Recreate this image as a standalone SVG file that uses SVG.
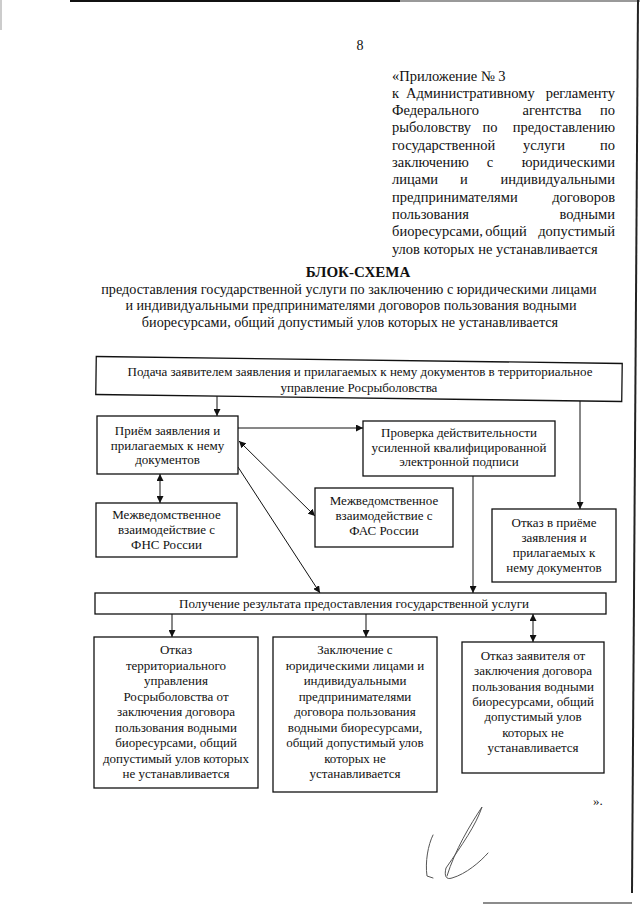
<svg xmlns="http://www.w3.org/2000/svg" width="640" height="905" viewBox="0 0 640 905">
<defs>
<style>
text{font-family:"Liberation Serif","Times New Roman",serif;fill:#111}
.b{font-size:13px;text-anchor:middle}
.h{font-size:14.5px}
.he{font-size:14.5px;text-anchor:end}
.hm{font-size:14.5px;text-anchor:middle}
.t{font-size:14.2px;text-anchor:middle}
.box{fill:#fff;stroke:#111;stroke-width:1.3}
.c{fill:none;stroke:#111;stroke-width:1}
</style>
<marker id="ah" viewBox="0 0 10 10" refX="10" refY="5" markerWidth="7" markerHeight="7" markerUnits="userSpaceOnUse" orient="auto-start-reverse">
<path d="M0,0 L10,5 L0,10 z" fill="#111"/>
</marker>
</defs>
<rect width="640" height="905" fill="#fff"/>
<g id="scan-edges" fill="none">
<line x1="70" y1="1" x2="400" y2="1" stroke="#111" stroke-width="2"/>
<line x1="400" y1="1" x2="640" y2="1" stroke="#777" stroke-width="1.5"/>
<line x1="1" y1="0" x2="1" y2="30" stroke="#999" stroke-width="1"/>
<line x1="638" y1="0" x2="632" y2="893" stroke="#222" stroke-width="2"/>
<line x1="483" y1="903" x2="632" y2="903" stroke="#666" stroke-width="1.5"/>
</g>
<text x="360" y="50" style="font-size:14px;text-anchor:middle">8</text>
<g id="header">
<text class="h" x="392" y="80.5">«Приложение  № 3</text>
<text class="h" x="392" y="97.8">к</text><text class="h" x="406" y="97.8">Административному</text><text class="he" x="615" y="97.8">регламенту</text>
<text class="h" x="392" y="115.1">Федерального</text><text class="hm" x="552" y="115.1">агентства</text><text class="he" x="615" y="115.1">по</text>
<text class="h" x="392" y="132.4">рыболовству</text><text class="hm" x="490" y="132.4">по</text><text class="he" x="615" y="132.4">предоставлению</text>
<text class="h" x="392" y="149.7">государственной</text><text class="hm" x="544" y="149.7">услуги</text><text class="he" x="615" y="149.7">по</text>
<text class="h" x="392" y="167">заключению</text><text class="hm" x="490" y="167">с</text><text class="he" x="615" y="167">юридическими</text>
<text class="h" x="392" y="184.3">лицами</text><text class="hm" x="464" y="184.3">и</text><text class="he" x="615" y="184.3">индивидуальными</text>
<text class="h" x="392" y="201.6">предпринимателями</text><text class="he" x="615" y="201.6">договоров</text>
<text class="h" x="392" y="218.9">пользования</text><text class="he" x="615" y="218.9">водными</text>
<text class="h" x="392" y="236.2">биоресурсами,</text><text class="hm" x="506" y="236.2">общий</text><text class="he" x="615" y="236.2">допустимый</text>
<text class="h" x="392" y="253.5">улов которых не устанавливается</text>
</g>
<g id="title">
<text x="358" y="277" style="font-size:15px;font-weight:bold;text-anchor:middle">БЛОК-СХЕМА</text>
<text class="t" x="349" y="293.5">предоставления государственной услуги по заключению с юридическими лицами</text>
<text class="t" x="351" y="310">и индивидуальными предпринимателями договоров пользования водными</text>
<text class="t" x="350" y="326.5">биоресурсами, общий допустимый улов которых не устанавливается</text>
</g>
<g id="connectors">
<line class="c" x1="217" y1="396" x2="217" y2="416" marker-end="url(#ah)"/>
<line class="c" x1="580" y1="401" x2="580" y2="509" marker-end="url(#ah)"/>
<line class="c" x1="238" y1="428" x2="363" y2="428" marker-end="url(#ah)"/>
<line class="c" x1="160" y1="474" x2="160" y2="503" marker-start="url(#ah)" marker-end="url(#ah)"/>
<line class="c" x1="239" y1="441" x2="315" y2="516" marker-start="url(#ah)" marker-end="url(#ah)"/>
<line class="c" x1="238" y1="467" x2="320" y2="593" marker-end="url(#ah)"/>
<line class="c" x1="473" y1="476" x2="473" y2="593" marker-end="url(#ah)"/>
<line class="c" x1="172" y1="614" x2="172" y2="637" marker-end="url(#ah)"/>
<line class="c" x1="366" y1="614" x2="366" y2="637" marker-end="url(#ah)"/>
<line class="c" x1="533" y1="614" x2="533" y2="642" marker-start="url(#ah)" marker-end="url(#ah)"/>
</g>
<g id="n-podacha">
<rect class="box" x="96" y="360" width="526" height="38" transform="rotate(0.76 359 379)"/>
<text class="b" x="360" y="376">Подача заявителем заявления и прилагаемых к нему документов в территориальное</text>
<text class="b" x="359" y="391.5">управление Росрыболовства</text>
</g>
<g id="n-priem">
<rect class="box" x="97" y="416" width="141" height="58"/>
<text class="b" x="167.5" y="435">Приём заявления и</text>
<text class="b" x="167.5" y="449.5">прилагаемых к нему</text>
<text class="b" x="167.5" y="464">документов</text>
</g>
<g id="n-proverka">
<rect class="box" x="363" y="421" width="192" height="55"/>
<text class="b" x="459" y="437">Проверка действительности</text>
<text class="b" x="459" y="451.5">усиленной квалифицированной</text>
<text class="b" x="459" y="466">электронной подписи</text>
</g>
<g id="n-fns">
<rect class="box" x="96" y="503" width="141" height="54"/>
<text class="b" x="166.5" y="519">Межведомственное</text>
<text class="b" x="166.5" y="534">взаимодействие с</text>
<text class="b" x="166.5" y="549">ФНС России</text>
</g>
<g id="n-fas">
<rect class="box" x="315" y="488" width="138" height="59"/>
<text class="b" x="384" y="505">Межведомственное</text>
<text class="b" x="384" y="520">взаимодействие с</text>
<text class="b" x="384" y="535">ФАС России</text>
</g>
<g id="n-otkaz-priem">
<rect class="box" x="492" y="509" width="124" height="73"/>
<text class="b" x="554" y="527">Отказ в приёме</text>
<text class="b" x="554" y="542">заявления и</text>
<text class="b" x="554" y="557">прилагаемых к</text>
<text class="b" x="554" y="572">нему документов</text>
</g>
<g id="n-poluchenie">
<rect class="box" x="95" y="593" width="511" height="21"/>
<text class="b" x="354" y="608">Получение результата предоставления государственной услуги</text>
</g>
<g id="n-otkaz-tu">
<rect class="box" x="94" y="637" width="164" height="151"/>
<text class="b" x="176" y="654">Отказ</text>
<text class="b" x="176" y="669.5">территориального</text>
<text class="b" x="176" y="685">управления</text>
<text class="b" x="176" y="700.5">Росрыболовства от</text>
<text class="b" x="176" y="716">заключения договора</text>
<text class="b" x="176" y="731.5">пользования водными</text>
<text class="b" x="176" y="747">биоресурсами, общий</text>
<text class="b" x="176" y="762.5">допустимый улов которых</text>
<text class="b" x="176" y="778">не устанавливается</text>
</g>
<g id="n-zakluchenie">
<rect class="box" x="273" y="637" width="164" height="155"/>
<text class="b" x="355" y="654">Заключение с</text>
<text class="b" x="355" y="669.5">юридическими лицами и</text>
<text class="b" x="355" y="685">индивидуальными</text>
<text class="b" x="355" y="700.5">предпринимателями</text>
<text class="b" x="355" y="716">договора пользования</text>
<text class="b" x="355" y="731.5">водными биоресурсами,</text>
<text class="b" x="355" y="747">общий допустимый улов</text>
<text class="b" x="355" y="762.5">которых не</text>
<text class="b" x="355" y="778">устанавливается</text>
</g>
<g id="n-otkaz-zayav">
<rect class="box" x="462" y="642" width="142" height="131"/>
<text class="b" x="533" y="660">Отказ заявителя от</text>
<text class="b" x="533" y="675.3">заключения договора</text>
<text class="b" x="533" y="690.6">пользования водными</text>
<text class="b" x="533" y="705.9">биоресурсами, общий</text>
<text class="b" x="533" y="721.2">допустимый улов</text>
<text class="b" x="533" y="736.5">которых не</text>
<text class="b" x="533" y="751.8">устанавливается</text>
</g>
<text x="593" y="805" style="font-size:13px">».</text>
<g id="signature" fill="none" stroke="#555" stroke-width="1" stroke-linecap="round">
<path d="M433,835 C428,845 425,862 427,876 L433,878"/>
<path d="M447,876 C455,850 470,825 482,807 C476,825 462,845 446,868 C444,876 446,880 452,878 C466,874 480,862 488,853"/>
</g>
</svg>
